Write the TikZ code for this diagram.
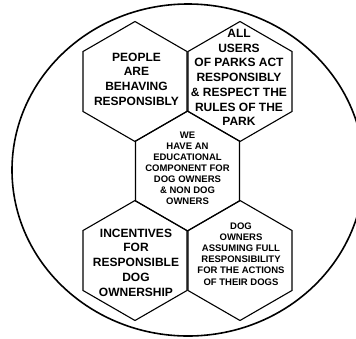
\documentclass[tikz,border=0pt]{standalone}
\usepackage{fontspec}
\setmainfont{Liberation Sans}
\usetikzlibrary{shapes.geometric}

\begin{document}
\begin{tikzpicture}[x=1pt,y=-1pt]
                \tikzstyle{every node}+=[inner sep=0pt]
                \tikzstyle{cell}=[draw, regular polygon, regular polygon sides=6, shape border rotate=30, minimum size=120pt, line width=1.1pt]
                \tikzstyle{bigtext}=[align=center, font=\bfseries\fontsize{12}{14.7}\selectfont]
                \tikzstyle{smalltext}=[align=center, font=\bfseries\fontsize{9.5}{11.1}\selectfont]
                \useasboundingbox (0,0) rectangle (356,338);
                \clip (0,0) rectangle (356,338);
                \draw [black, line width=1.6pt] (188,170) ellipse (176 and 166);
                \node [cell] (people) at (135,81.5) {};
                \node [cell] (users) at (240,81.5) {};
                \node [cell] (educ) at (187.5,171) {};
                \node [cell] (incent) at (135,260.5) {};
                \node [cell] (owners) at (240,260.5) {};
                \node [bigtext] (peopletxt) at ([xshift=1.5pt, yshift=2.5pt]people.center) {PEOPLE\\ARE\\BEHAVING\\RESPONSIBLY};
                \node [bigtext] (userstxt) at ([xshift=-1pt, yshift=4pt]users.center) {ALL\\USERS\\OF PARKS ACT\\RESPONSIBLY\\\& RESPECT THE\\RULES OF THE\\PARK};
                \node [smalltext] (eductxt) at ([yshift=2.7pt]educ.center) {WE\\HAVE AN\\EDUCATIONAL\\COMPONENT FOR\\DOG OWNERS\\\& NON DOG\\OWNERS};
                \node [bigtext] (incenttxt) at ([xshift=1pt, yshift=-2pt]incent.center) {INCENTIVES\\FOR\\RESPONSIBLE\\DOG\\OWNERSHIP};
                \node [smalltext] (ownerstxt) at ([xshift=1pt, yshift=6.5pt]owners.center) {DOG\\OWNERS\\ASSUMING FULL\\RESPONSIBILITY\\FOR THE ACTIONS\\OF THEIR DOGS};
\end{tikzpicture}
\end{document}
